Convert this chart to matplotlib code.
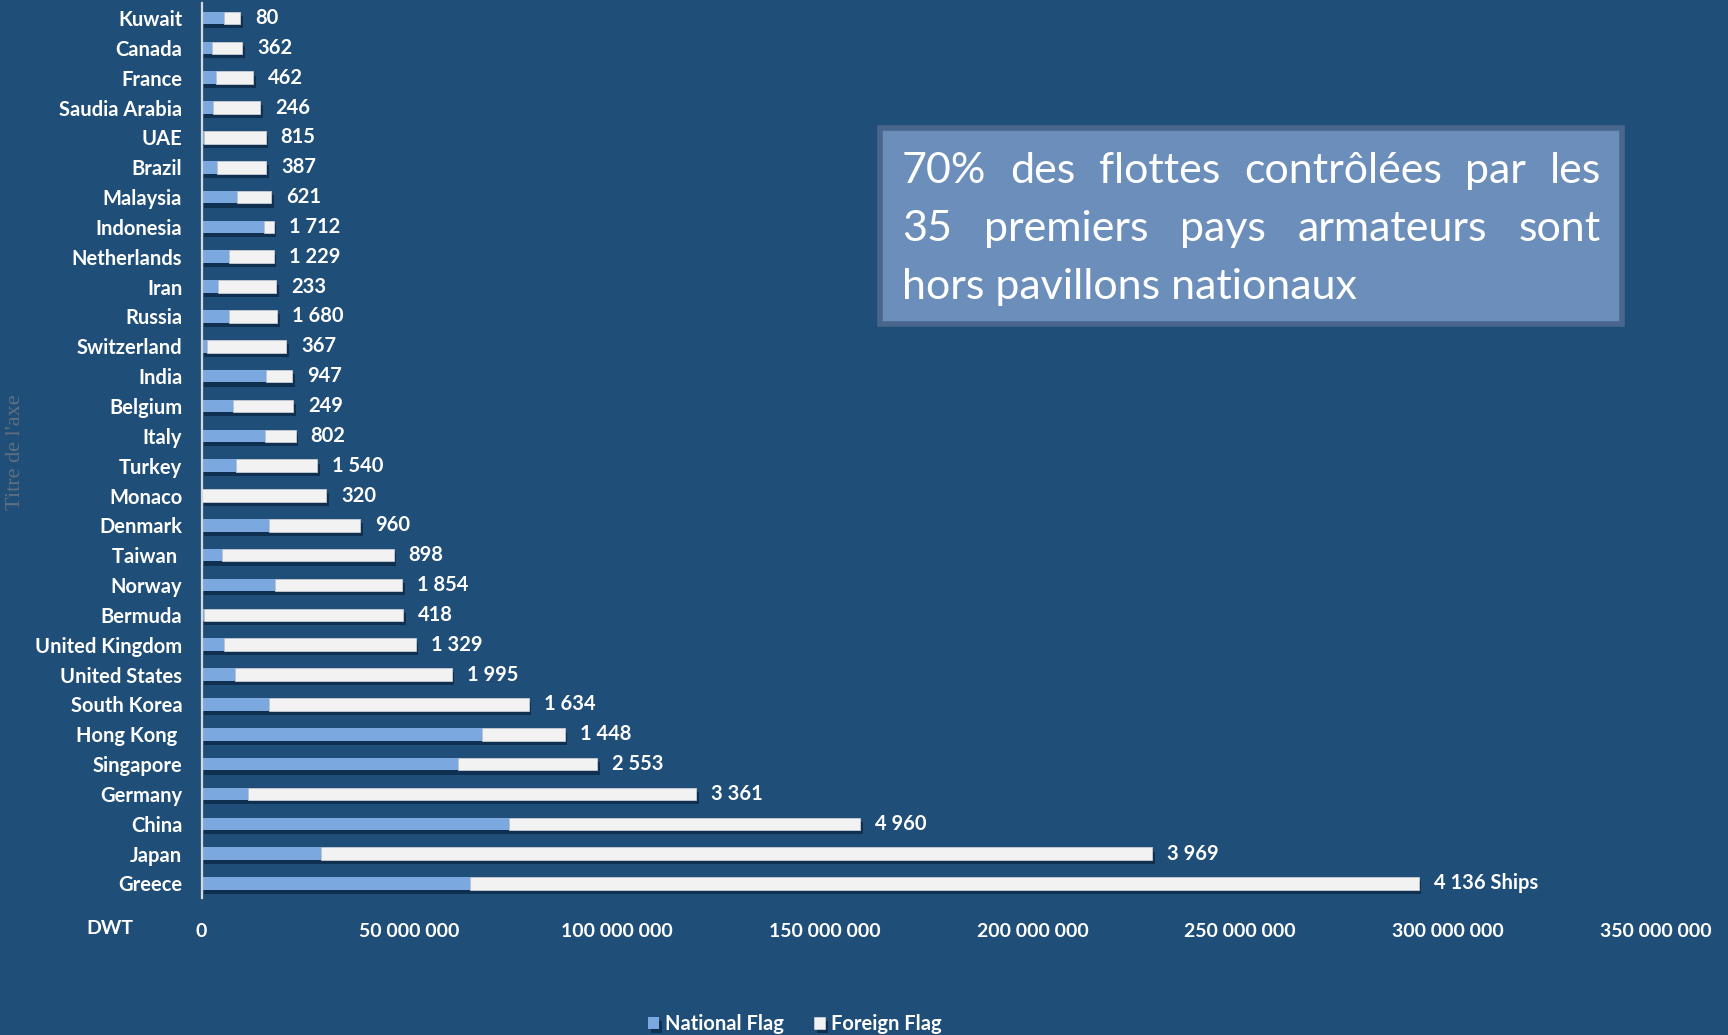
import matplotlib.pyplot as plt
import matplotlib.patheffects as pe
from matplotlib.patches import Rectangle
import numpy as np

# data, bottom (Greece) to top (Kuwait); DWT in millions
countries = ["Greece", "Japan", "China", "Germany", "Singapore", "Hong Kong ",
             "South Korea", "United States", "United Kingdom", "Bermuda", "Norway",
             "Taiwan ", "Denmark", "Monaco", "Turkey", "Italy", "Belgium", "India",
             "Switzerland", "Russia", "Iran", "Netherlands", "Indonesia", "Malaysia",
             "Brazil", "UAE", "Saudia Arabia", "France", "Canada", "Kuwait"]
national_mdwt = [64.7, 28.7, 74.1, 11.1, 61.7, 67.6, 16.2, 8.1, 5.3, 0.55, 17.6,
                 5.0, 16.2, 0.0, 8.3, 15.3, 7.5, 15.6, 1.3, 6.7, 3.9, 6.7, 15.1, 8.4,
                 3.7, 0.6, 2.8, 3.4, 2.5, 5.4]
foreign_mdwt = [228.3, 200.2, 84.5, 108.0, 33.5, 19.8, 62.5, 52.1, 46.2, 47.95, 30.7,
                41.2, 22.0, 29.9, 19.5, 7.3, 14.6, 6.2, 19.0, 11.4, 14.0, 10.6, 2.2, 8.4,
                11.9, 14.8, 11.2, 8.9, 7.3, 3.8]
ships = [4136, 3969, 4960, 3361, 2553, 1448, 1634, 1995, 1329, 418, 1854, 898, 960,
         320, 1540, 802, 249, 947, 367, 1680, 233, 1229, 1712, 621, 387, 815, 246,
         462, 362, 80]
xticks = [0, 50e6, 100e6, 150e6, 200e6, 250e6, 300e6, 350e6]
box_lines = ["70% des flottes contrôlées par les",
             "35 premiers pays armateurs sont",
             "hors pavillons nationaux"]

BG = "#1F4E79"
NAT = "#7BA8DF"
FOR = "#F2F2F2"
W, H = 1728, 1035

plt.rcParams['font.family'] = ['Lato', 'DejaVu Sans']

fig = plt.figure(figsize=(W / 100, H / 100), dpi=100, facecolor=BG)
ax = fig.add_axes([0.1167, 0.132, 0.958 - 0.1167, 0.865])
ax.set_facecolor(BG)

nat = np.array(national_mdwt) * 1e6
fgn = np.array(foreign_mdwt) * 1e6
y = np.arange(len(countries))
shadow = [pe.SimplePatchShadow(offset=(2, -3), shadow_rgbFace='#0B2440', alpha=0.7), pe.Normal()]

b1 = ax.barh(y, nat, height=0.42, color=NAT, label="National Flag", zorder=2)
b2 = ax.barh(y, fgn, left=nat, height=0.42, color=FOR, edgecolor='#C8CCD2',
             linewidth=0.6, label="Foreign Flag", zorder=3)
for b in list(b1) + list(b2):
    b.set_path_effects(shadow)

for yi, tot, s in zip(y, nat + fgn, ships):
    txt = f"{s:,}".replace(",", " ")
    if yi == 0:
        txt += " Ships"
    ax.annotate(txt, (tot, yi), xytext=(15, 0), textcoords='offset pixels',
                va='center', ha='left', color='white', fontsize=14.5, fontweight='bold')

ax.set_xlim(0, 350e6)
ax.set_ylim(-0.5, len(countries) - 0.5)
ax.set_yticks(y)
ax.set_yticklabels(countries, fontsize=14.5, fontweight='bold', color='white')
ax.set_xticks(xticks)
ax.set_xticklabels([f"{int(v):,}".replace(",", " ") for v in xticks],
                   fontsize=14, fontweight='bold', color='white')
ax.tick_params(axis='both', length=0)
ax.tick_params(axis='y', pad=14)
ax.tick_params(axis='x', pad=18)
for s in ['top', 'right', 'bottom']:
    ax.spines[s].set_visible(False)
ax.spines['left'].set_color('#D9D9D9')
ax.spines['left'].set_linewidth(1.6)
ax.spines['left'].set_zorder(5)

fig.text(110 / W, 1 - 928 / H, "DWT", ha='center', va='center', color='white',
         fontsize=14, fontweight='bold')
fig.text(16 / W, 1 - 452 / H, "Titre de l'axe", rotation=90, ha='center', va='center',
         color='#62707E', fontsize=16, family=['Liberation Serif'])

leg = fig.legend(handles=[b1, b2], loc='center', bbox_to_anchor=(795 / W, 1 - 1024 / H),
                 ncol=2, frameon=False, fontsize=14.5, handlelength=0.55, handleheight=0.6,
                 handletextpad=0.3, columnspacing=1.5)
for t in leg.get_texts():
    t.set_color('white')
    t.set_fontweight('bold')

# annotation box
fig.add_artist(Rectangle((880 / W, 1 - 324 / H), 742 / W, 196 / H, transform=fig.transFigure,
                         facecolor='#6C8EBA', edgecolor='#4B668C', linewidth=4, zorder=1))
left, right = 902, 1601
line_y = [171, 229, 287]
fig.canvas.draw()
renderer = fig.canvas.get_renderer()
for i, (line, ly) in enumerate(zip(box_lines, line_y)):
    words = line.split(" ")
    kw = dict(color='white', fontsize=31, va='center', ha='left', zorder=2)
    if i == len(box_lines) - 1:
        fig.text(left / W, 1 - ly / H, line, **kw)
        continue
    arts = [fig.text(0, 1 - ly / H, w, **kw) for w in words]
    widths = [a.get_window_extent(renderer).width for a in arts]
    gap = (right - left - sum(widths)) / (len(words) - 1)
    x = left
    for a, wd in zip(arts, widths):
        a.set_x(x / W)
        x += wd + gap

fig.savefig("out.png", dpi=100, facecolor=BG)
